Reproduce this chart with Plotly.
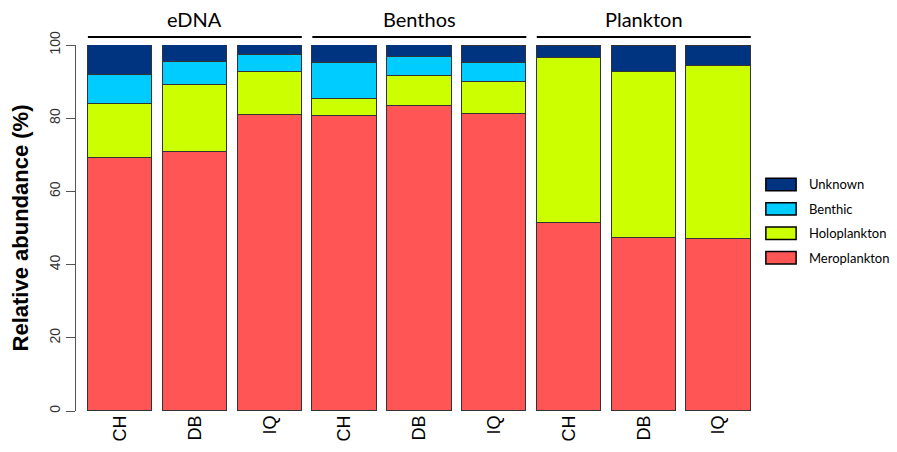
import plotly.graph_objects as go

groups = ["eDNA", "Benthos", "Plankton"]
sites = ["CH", "DB", "IQ"]
meroplankton = [69.1, 70.7, 80.8, 80.6, 83.2, 81.2, 51.4, 47.4, 47.0]
holoplankton = [14.8, 18.3, 11.9, 4.7, 8.2, 8.7, 45.1, 45.2, 47.3]
benthic = [8.0, 6.4, 4.6, 9.9, 5.4, 5.3, 0.0, 0.0, 0.0]
unknown = [8.1, 4.6, 2.7, 4.8, 3.2, 4.5, 3.2, 7.1, 5.4]
y_ticks = [0, 20, 40, 60, 80, 100]

series = [
    ("Meroplankton", meroplankton, "#FF5555"),
    ("Holoplankton", holoplankton, "#CCFF00"),
    ("Benthic", benthic, "#00CCFF"),
    ("Unknown", unknown, "#003380"),
]

labels = [s for g in groups for s in sites]
xpos = list(range(len(labels)))
bw = 0.86

fig = go.Figure()
for name, vals, col in series:
    fig.add_trace(go.Bar(
        x=xpos, y=vals, name=name, width=bw, showlegend=False,
        marker=dict(color=col, line=dict(color="#333333", width=1)),
    ))

shapes = []
annotations = []
for gi, g in enumerate(groups):
    x0 = gi * len(sites) - bw / 2
    x1 = gi * len(sites) + len(sites) - 1 + bw / 2
    shapes.append(dict(type="line", xref="x", yref="paper", x0=x0, x1=x1,
                       y0=1.022, y1=1.022, line=dict(color="black", width=2)))
    annotations.append(dict(text=g, xref="x", yref="paper",
                            x=(x0 + x1) / 2, y=1.072, showarrow=False,
                            font=dict(family="Lato", size=20, color="black"),
                            xanchor="center", yanchor="middle"))

# custom legend (swatches + labels), top entry = Unknown
legend_items = list(reversed(series))
ly0 = 0.619
ldy = 0.0667
for i, (name, vals, col) in enumerate(legend_items):
    yc = ly0 - i * ldy
    shapes.append(dict(type="rect", xref="paper", yref="paper",
                       x0=1.0145, x1=1.059, y0=yc - 0.017, y1=yc + 0.017,
                       fillcolor=col, line=dict(color="black", width=1.5)))
    annotations.append(dict(text=name, xref="paper", yref="paper",
                            x=1.075, y=yc, showarrow=False,
                            xanchor="left", yanchor="middle",
                            font=dict(family="Lato", size=13, color="black")))

fig.update_layout(
    barmode="stack",
    width=897, height=452,
    margin=dict(l=76, r=141, t=45, b=41),
    plot_bgcolor="white", paper_bgcolor="white",
    shapes=shapes, annotations=annotations,
    bargap=0,
    showlegend=False,
)
fig.update_xaxes(
    range=[-0.589, 8.5], tickvals=xpos, ticktext=labels, tickangle=-90,
    showgrid=False, zeroline=False, showline=False, ticks="",
    tickfont=dict(family="Arial", size=18, color="black"),
    automargin=False,
)
fig.update_yaxes(
    range=[0, 100], tickvals=y_ticks, tickangle=-90,
    showgrid=False, zeroline=False, showline=True, linecolor="#555555", linewidth=1,
    ticks="outside", ticklen=9, tickcolor="#555555",
    tickfont=dict(family="Arial", size=14, color="#333333"),
    title=dict(text="<b>Relative abundance (%)</b>", standoff=12,
               font=dict(family="Arial", size=22, color="black")),
    automargin=False,
)

fig.write_html("out.html", config={"displayModeBar": False},
               post_script="document.body.style.margin='0';")
